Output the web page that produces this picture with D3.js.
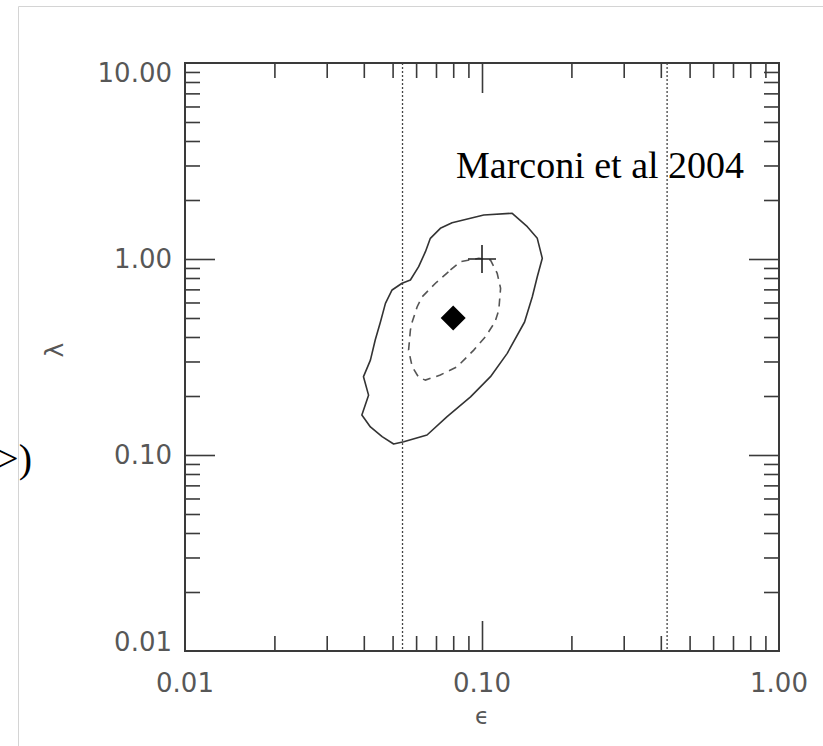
<!DOCTYPE html>
<html>
<head>
<meta charset="utf-8">
<script src="https://cdn.jsdelivr.net/npm/d3@7"></script>
<style>
  html, body { margin: 0; padding: 0; background: #fff; }
  svg { display: block; }
</style>
</head>
<body>
<svg id="chart" width="823" height="746"></svg>
<script>
// Radiative efficiency (epsilon) vs Eddington ratio (lambda) confidence contours

// Axis tick values and labels
const xTickValues = [0.01, 0.1, 1];
const xTickLabels = ["0.01", "0.10", "1.00"];
const yTickValues = [0.01, 0.1, 1, 10];
const yTickLabels = ["0.01", "0.10", "1.00", "10.00"];

// Efficiency limits (vertical dotted lines)
const epsLimits = [0.054, 0.42];

// Outer confidence contour (solid)
const outerEps = [0.1264, 0.1421, 0.1535, 0.1596, 0.1535, 0.1477, 0.1391, 0.1216, 0.1068, 0.0915,
                  0.0763, 0.0653, 0.0545, 0.0504, 0.0461, 0.0421, 0.0394, 0.0415, 0.0399, 0.0421,
                  0.0437, 0.0455, 0.0473, 0.0498, 0.0538, 0.0574, 0.0612, 0.0645, 0.0670, 0.0724,
                  0.0793, 0.1014];
const outerLam = [1.711, 1.462, 1.275, 1.008, 0.812, 0.642, 0.477, 0.330, 0.251, 0.198,
                  0.157, 0.1265, 0.1169, 0.1138, 0.124, 0.139, 0.160, 0.202, 0.251, 0.305,
                  0.386, 0.477, 0.594, 0.695, 0.752, 0.781, 0.914, 1.090, 1.275, 1.434,
                  1.531, 1.677];

// Inner confidence contour (dashed)
const innerEps = [0.0783, 0.0846, 0.0976, 0.1068, 0.1125, 0.1155, 0.1139, 0.1106, 0.1028, 0.0938,
                  0.0825, 0.0724, 0.0645, 0.0612, 0.0582, 0.0566, 0.0574, 0.0582, 0.0605, 0.0629,
                  0.0697];
const innerLam = [0.879, 0.969, 1.008, 0.988, 0.845, 0.709, 0.549, 0.477, 0.402, 0.343,
                  0.282, 0.256, 0.241, 0.249, 0.282, 0.343, 0.434, 0.477, 0.571, 0.642,
                  0.752];

// Best fit (diamond) and reference point (cross)
const bestFit = { eps: 0.08, lam: 0.5 };
const refPoint = { eps: 0.1, lam: 1.0 };
const refLabel = "Marconi et al 2004";

const svg = d3.select("#chart");

// Light page frame
svg.append("path")
  .attr("d", "M18.5,746 L18.5,6.5 L823,6.5")
  .attr("fill", "none").attr("stroke", "#d4d4d4").attr("stroke-width", 1);

// Fragment of text spilling in from the neighbouring panel on the left
svg.append("text")
  .attr("x", 32).attr("y", 472)
  .attr("text-anchor", "end")
  .attr("font-family", "'Liberation Serif', 'Times New Roman', serif")
  .attr("font-size", 40).attr("fill", "#000")
  .text(">)");

const plotL = 185, plotR = 779, plotT = 63, plotB = 651;
const x = d3.scaleLog().domain([0.01, 1]).range([plotL, plotR]);
const y = d3.scaleLog().domain([0.01, 10]).range([plotB, plotT]);

const axisColor = "#3a3a3a";
const minorLen = 15, majorLen = 30;

// Minor tick values: 2..9 within each decade
function minorTicks(lo, hi) {
  const out = [];
  for (let d = Math.round(Math.log10(lo)); d < Math.round(Math.log10(hi)); d++) {
    for (let k = 2; k <= 9; k++) out.push(k * Math.pow(10, d));
  }
  return out;
}
const xMinor = minorTicks(0.01, 1);
const yMinor = minorTicks(0.01, 10);
const xMajorInner = xTickValues.slice(1, -1);
const yMajorInner = yTickValues.slice(1, -1);

function addAxis(axis, transform) {
  const g = svg.append("g").attr("transform", transform).call(axis);
  g.select(".domain").remove();
  g.selectAll(".tick line").attr("stroke", axisColor).attr("stroke-width", 1.6);
  g.selectAll(".tick text").remove();
  return g;
}

// Ticks on all four sides, pointing inward
addAxis(d3.axisBottom(x).tickValues(xMinor).tickSize(-minorLen), `translate(0,${plotB})`);
addAxis(d3.axisBottom(x).tickValues(xMajorInner).tickSize(-majorLen), `translate(0,${plotB})`);
addAxis(d3.axisTop(x).tickValues(xMinor).tickSize(-minorLen), `translate(0,${plotT})`);
addAxis(d3.axisTop(x).tickValues(xMajorInner).tickSize(-majorLen), `translate(0,${plotT})`);
addAxis(d3.axisLeft(y).tickValues(yMinor).tickSize(-minorLen), `translate(${plotL},0)`);
addAxis(d3.axisLeft(y).tickValues(yMajorInner).tickSize(-majorLen), `translate(${plotL},0)`);
addAxis(d3.axisRight(y).tickValues(yMinor).tickSize(-minorLen), `translate(${plotR},0)`);
addAxis(d3.axisRight(y).tickValues(yMajorInner).tickSize(-majorLen), `translate(${plotR},0)`);

// Plot frame
svg.append("rect")
  .attr("x", plotL).attr("y", plotT)
  .attr("width", plotR - plotL).attr("height", plotB - plotT)
  .attr("fill", "none").attr("stroke", axisColor).attr("stroke-width", 2);

// Tick labels
const labelFont = "'DejaVu Sans', sans-serif";
const labelColor = "#575757";
svg.append("g").selectAll("text").data(xTickValues).join("text")
  .attr("x", d => x(d)).attr("y", 692)
  .attr("text-anchor", "middle")
  .attr("font-family", labelFont).attr("font-size", 26).attr("fill", labelColor)
  .text((d, i) => xTickLabels[i]);

svg.append("g").selectAll("text").data(yTickValues).join("text")
  .attr("x", 172)
  .attr("y", d => Math.min(plotB - 9, Math.max(plotT + 10, y(d))))
  .attr("dy", "0.36em")
  .attr("text-anchor", "end")
  .attr("font-family", labelFont).attr("font-size", 26).attr("fill", labelColor)
  .text((d, i) => yTickLabels[i]);

// Axis titles
svg.append("text")
  .attr("x", (plotL + plotR) / 2).attr("y", 724)
  .attr("text-anchor", "middle")
  .attr("font-family", labelFont).attr("font-size", 23).attr("fill", labelColor)
  .text("ϵ");

svg.append("text")
  .attr("transform", "translate(63,350) rotate(-90)")
  .attr("text-anchor", "middle")
  .attr("font-family", labelFont).attr("font-size", 25).attr("fill", labelColor)
  .text("λ");

// Vertical efficiency limits
svg.append("g").selectAll("line").data(epsLimits).join("line")
  .attr("x1", d => x(d)).attr("x2", d => x(d))
  .attr("y1", plotT).attr("y2", plotB)
  .attr("stroke", "#444").attr("stroke-width", 1.3)
  .attr("stroke-dasharray", "2,2");

// Contours
const line = d3.line().x(d => x(d[0])).y(d => y(d[1])).curve(d3.curveLinearClosed);
const outerPts = outerEps.map((e, i) => [e, outerLam[i]]);
const innerPts = innerEps.map((e, i) => [e, innerLam[i]]);

svg.append("path")
  .attr("d", line(outerPts))
  .attr("fill", "none").attr("stroke", "#333").attr("stroke-width", 1.6)
  .attr("stroke-linejoin", "round");

svg.append("path")
  .attr("d", line(innerPts))
  .attr("fill", "none").attr("stroke", "#555").attr("stroke-width", 1.6)
  .attr("stroke-dasharray", "8,6");

// Best fit diamond
svg.append("path")
  .attr("d", d3.symbol(d3.symbolSquare, 2 * 12.5 * 12.5)())
  .attr("transform", `translate(${x(bestFit.eps)},${y(bestFit.lam)}) rotate(45)`)
  .attr("fill", "#000");

// Reference cross
const rx = x(refPoint.eps), ry = y(refPoint.lam), arm = 14;
svg.append("path")
  .attr("d", `M${rx - arm},${ry}H${rx + arm}M${rx},${ry - arm}V${ry + arm}`)
  .attr("stroke", "#222").attr("stroke-width", 1.6).attr("fill", "none");

// Reference label
svg.append("text")
  .attr("x", 456).attr("y", 178)
  .attr("font-family", "'Liberation Serif', 'Times New Roman', serif")
  .attr("font-size", 38).attr("fill", "#000")
  .text(refLabel);
</script>
</body>
</html>
